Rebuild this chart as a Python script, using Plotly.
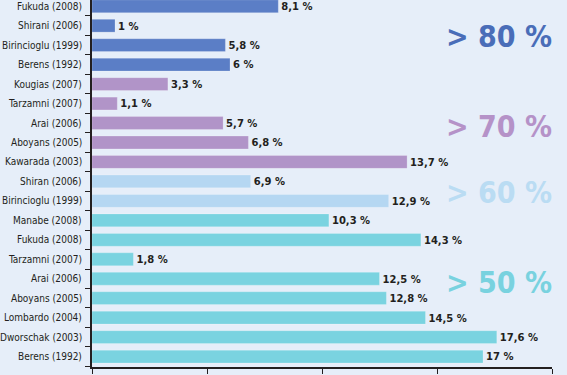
import plotly.graph_objects as go

studies = ["Fukuda (2008)", "Shirani (2006)", "Birincioglu (1999)", "Berens (1992)",
           "Kougias (2007)", "Tarzamni (2007)", "Arai (2006)", "Aboyans (2005)", "Kawarada (2003)",
           "Shiran (2006)", "Birincioglu (1999)",
           "Manabe (2008)", "Fukuda (2008)", "Tarzamni (2007)", "Arai (2006)", "Aboyans (2005)",
           "Lombardo (2004)", "Dworschak (2003)", "Berens (1992)"]
values = [8.1, 1, 5.8, 6,
          3.3, 1.1, 5.7, 6.8, 13.7,
          6.9, 12.9,
          10.3, 14.3, 1.8, 12.5, 12.8, 14.5, 17.6, 17]
groups = ["> 80 %"] * 4 + ["> 70 %"] * 5 + ["> 60 %"] * 2 + ["> 50 %"] * 8
group_colors = {"> 80 %": "#5B7EC6", "> 70 %": "#B194C8", "> 60 %": "#B5D7F2", "> 50 %": "#7AD3E0"}
group_text_colors = {"> 80 %": "#4A6DB8", "> 70 %": "#B592C8", "> 60 %": "#BADCF3", "> 50 %": "#79D2DF"}
group_label_rows = {"> 80 %": 1.55, "> 70 %": 6.2, "> 60 %": 9.55, "> 50 %": 14.2}

FONT = "DejaVu Sans Condensed, Liberation Sans Narrow, sans-serif"

n = len(studies)
ypos = [n - 1 - i for i in range(n)]
labels = [(str(v).replace(".", ",") if v % 1 else str(int(v))) + " %" for v in values]

fig = go.Figure()
fig.add_trace(go.Bar(
    x=values, y=ypos, orientation="h", width=0.66,
    marker=dict(color=[group_colors[g] for g in groups],
                line=dict(color="rgba(255,255,255,0.35)", width=0.6)),
    text=labels, textposition="outside", cliponaxis=False,
    textfont=dict(family=FONT, size=13, color="#231F20", weight="bold"),
    hoverinfo="skip",
))

# category labels (as annotations so the top one, partly above the plot, is kept)
for name, yp in zip(studies, ypos):
    fig.add_annotation(x=0, xref="paper", xanchor="right", xshift=-8, y=yp, yref="y",
                       text=name, showarrow=False,
                       font=dict(family=FONT, size=10, color="#231F20"))

for g, row in group_label_rows.items():
    fig.add_annotation(x=1.005, xref="paper", xanchor="right", y=n - 1 - row, yref="y",
                       text="<b>" + g + "</b>", showarrow=False,
                       font=dict(family=FONT, size=30, color=group_text_colors[g]))

fig.update_layout(
    width=567, height=375,
    margin=dict(l=92, r=15, t=0, b=8),
    paper_bgcolor="#E6EEF9", plot_bgcolor="#E6EEF9",
    showlegend=False,
    xaxis=dict(range=[0, 20], showgrid=False, zeroline=False, showline=True,
               linecolor="#231F20", linewidth=1.5, ticks="outside", ticklen=5,
               tickcolor="#231F20", tickvals=[0, 5, 10, 15, 20], showticklabels=False,
               automargin=False),
    yaxis=dict(range=[-0.535, n - 1 + 0.32], showgrid=False, zeroline=False,
               showline=True, linecolor="#231F20", linewidth=1.5, automargin=False,
               tickvals=ypos, showticklabels=False, ticks="",
               minor=dict(tickvals=[y + 0.5 for y in range(-1, n)], ticks="outside",
                          ticklen=5, tickcolor="#231F20", tickwidth=1.2)),
)

fig.write_html("out.html", config={"displayModeBar": False},
               post_script="document.body.style.margin='0';document.body.style.padding='0';"
                           "document.body.style.background='#E6EEF9';")
